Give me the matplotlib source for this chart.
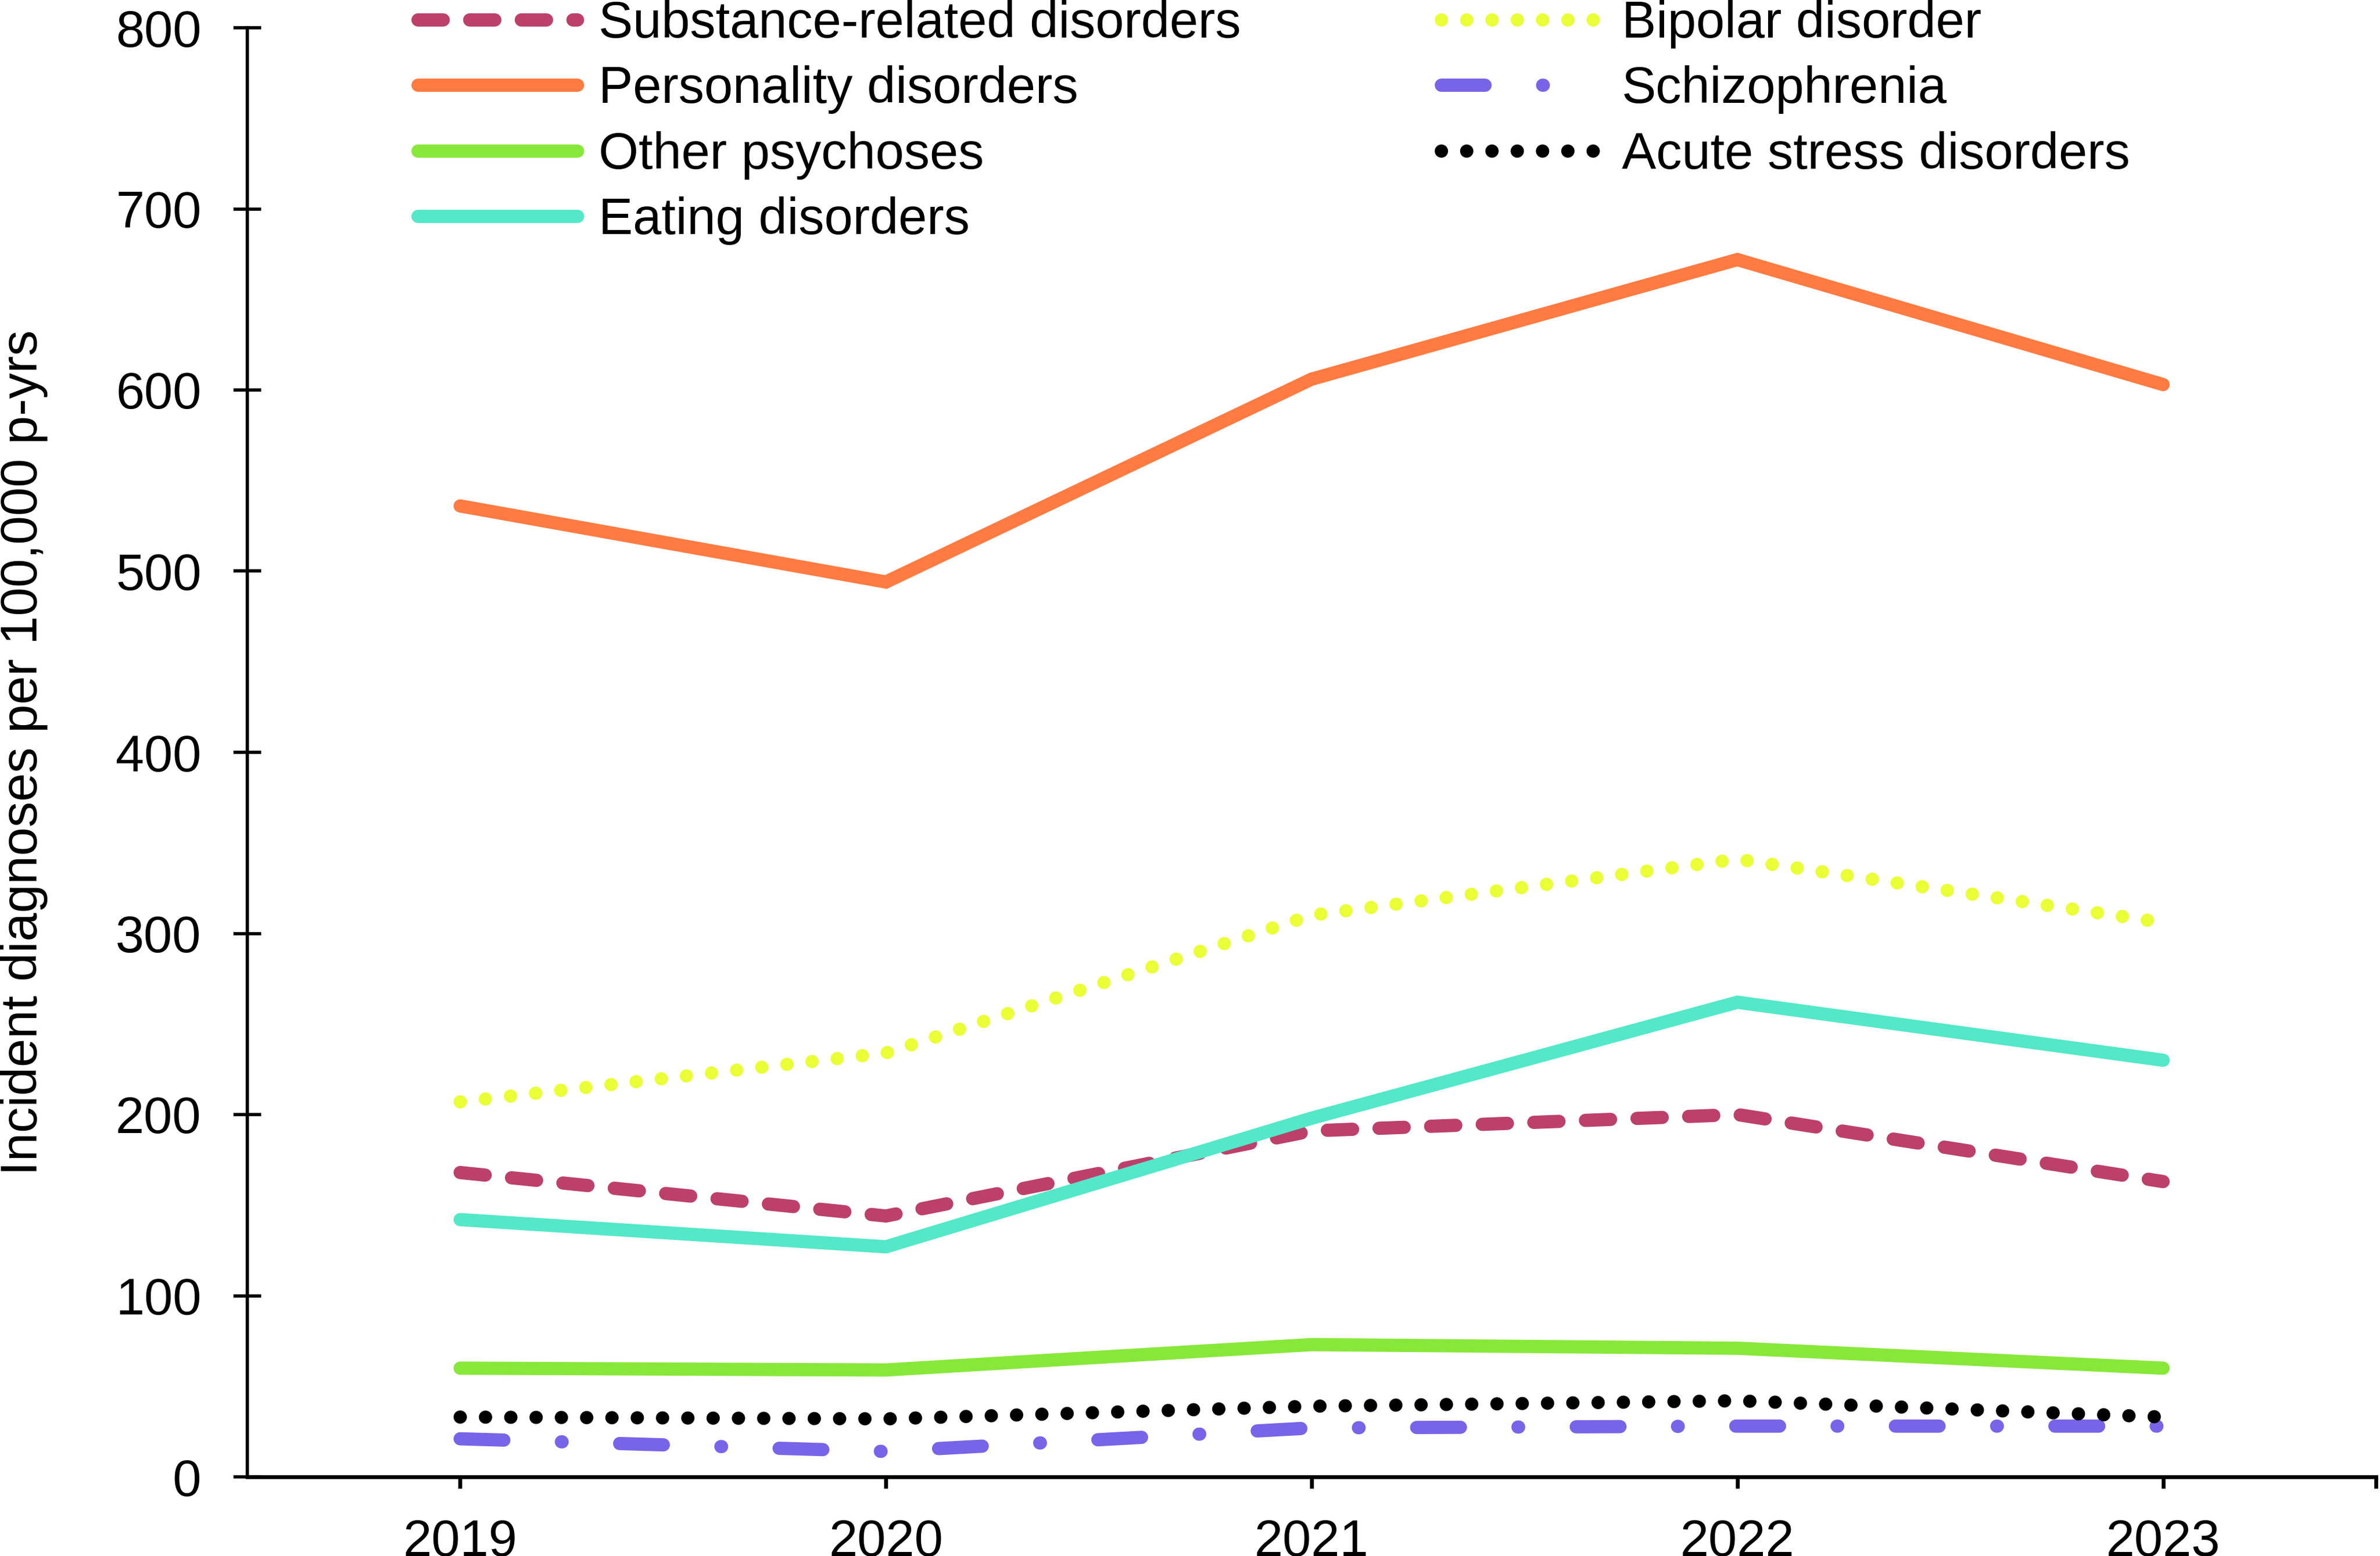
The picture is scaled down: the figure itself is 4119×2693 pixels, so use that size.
import matplotlib
matplotlib.use("Agg")
import matplotlib.pyplot as plt

years = [2019, 2020, 2021, 2022, 2023]
substance = [168, 144, 191, 200, 163]
personality = [536, 494, 606, 672, 603]
other_psychoses = [60, 59, 73, 71, 60]
eating = [142, 127, 198, 262, 230]
bipolar = [207, 234, 310, 341, 306]
schizophrenia = [21, 14, 27, 28, 28]
acute_stress = [33, 32, 39, 42, 33]

labels = ["Substance-related disorders", "Personality disorders", "Other psychoses",
          "Eating disorders", "Bipolar disorder", "Schizophrenia", "Acute stress disorders"]
yticks = [0, 100, 200, 300, 400, 500, 600, 700, 800]

plt.rcParams['font.family'] = ['Liberation Sans', 'DejaVu Sans']

W, H = 4119, 2693
fig = plt.figure(figsize=(W / 100, H / 100), dpi=100)
ax = fig.add_axes([428 / W, (H - 2556) / H, (4112 - 428) / W, (2556 - 48) / H])

lw = 16.5
styles = [
    (substance, '#BC406A', (0, (1.9, 2.0))),
    (personality, '#FF7B42', '-'),
    (other_psychoses, '#88E83A', '-'),
    (eating, '#52E8C8', '-'),
    (bipolar, '#EAFF36', (0, (0.01, 1.9))),
    (schizophrenia, '#7864E8', (0, (3.3, 4.35, 0.05, 4.35))),
    (acute_stress, '#000000', (0, (0.01, 1.9))),
]
handles = []
for vals, col, ls in styles:
    ln, = ax.plot(years, vals, color=col, lw=lw, linestyle=ls,
                  dash_capstyle='round', solid_capstyle='round',
                  solid_joinstyle='miter', dash_joinstyle='miter')
    handles.append(ln)

ax.set_xlim(2018.5, 2023.5)
ax.set_ylim(0, 800)
ax.set_xticks(years)
ax.set_xticklabels([str(y) for y in years])
ax.set_xticks([2023.5], minor=True)
ax.set_yticks(yticks)

for s in ['top', 'right']:
    ax.spines[s].set_visible(False)
ax.spines['left'].set_linewidth(4)
ax.spines['bottom'].set_linewidth(4.8)

ax.tick_params(axis='y', which='major', direction='inout', length=34.5, width=4,
               pad=40, labelsize=64)
ax.tick_params(axis='x', which='both', direction='out', length=14.5, width=4.8,
               pad=37, labelsize=64)

ax.set_ylabel("Incident diagnoses per 100,000 p-yrs", fontsize=64)
ax.yaxis.set_label_coords((83 - 428) / (4112 - 428), 0.5)

leg = ax.legend(handles, labels, ncol=2, loc='upper left',
                bbox_to_anchor=(723 / W, 1.0), bbox_transform=fig.transFigure,
                frameon=False, borderpad=0, borderaxespad=0,
                handlelength=3.1, handletextpad=0.42, columnspacing=3.9,
                labelspacing=0.33, fontsize=64)

fig.savefig("out.png", dpi=100)
